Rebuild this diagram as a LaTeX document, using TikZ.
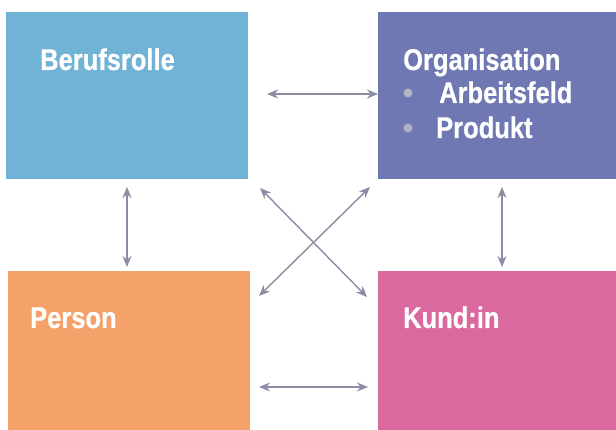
\documentclass[tikz,border=0pt]{standalone}
\usepackage{fontspec}
\setmainfont{Liberation Sans}[FakeStretch=0.85, BoldFeatures={FakeBold=0.6}]
\usetikzlibrary{arrows.meta}
\definecolor{cblue}{HTML}{71B3D7}
\definecolor{cpurple}{HTML}{6F78B2}
\definecolor{corange}{HTML}{F4A26A}
\definecolor{cpink}{HTML}{DA699F}
\definecolor{carrow}{HTML}{8C8CA4}
\definecolor{cbullet}{HTML}{B3B3C6}
\tikzset{
  box/.style={inner sep=0pt, outer sep=0pt, anchor=north west},
  lbl/.style={inner sep=0pt, anchor=base west, text=white, font=\bfseries\fontsize{30}{36}\selectfont},
  bul/.style={circle, fill=cbullet, inner sep=0pt, minimum size=9pt},
  arr/.style={draw=carrow, line width=1.4pt, {Stealth[length=11pt,width=9pt,inset=3.5pt]}-{Stealth[length=11pt,width=9pt,inset=3.5pt]}}
}
\begin{document}
\begin{tikzpicture}[x=1pt,y=-1pt]
\useasboundingbox (0,0) rectangle (616,430);
% boxes
\node[box, fill=cblue,   minimum width=242pt, minimum height=167pt] (beruf) at (6,12) {};
\node[box, fill=cpurple, minimum width=238pt, minimum height=167pt] (org)   at (378,12) {};
\node[box, fill=corange, minimum width=242pt, minimum height=159pt] (pers)  at (8,271) {};
\node[box, fill=cpink,   minimum width=238pt, minimum height=159pt] (kund)  at (378,271) {};
% labels
\node[lbl] (tberuf) at (40,70) {Berufsrolle};
\node[lbl] (torg)   at (403,70) {Organisation};
\node[bul] (b1) at (408,93) {};
\node[lbl] (tarb)   at (439,103) {Arbeitsfeld};
\node[bul] (b2) at (408,128) {};
\node[lbl] (tprod)  at (436,138) {Produkt};
\node[lbl] (tpers)  at (30,328) {Person};
\node[lbl] (tkund)  at (403,328) {Kund:in};
% connector end points
\coordinate (h1a) at (267,94);  \coordinate (h1b) at (378,94);
\coordinate (h2a) at (259,387); \coordinate (h2b) at (368,387);
\coordinate (v1a) at (127,187); \coordinate (v1b) at (127,267);
\coordinate (v2a) at (502,187); \coordinate (v2b) at (502,267);
\coordinate (d1a) at (260,188); \coordinate (d1b) at (367,297);
\coordinate (d2a) at (370,187); \coordinate (d2b) at (259,296);
% connectors
\draw[arr] (h1a) -- (h1b);
\draw[arr] (h2a) -- (h2b);
\draw[arr] (v1a) -- (v1b);
\draw[arr] (v2a) -- (v2b);
\draw[arr] (d1a) -- (d1b);
\draw[arr] (d2a) -- (d2b);
\end{tikzpicture}
\end{document}
